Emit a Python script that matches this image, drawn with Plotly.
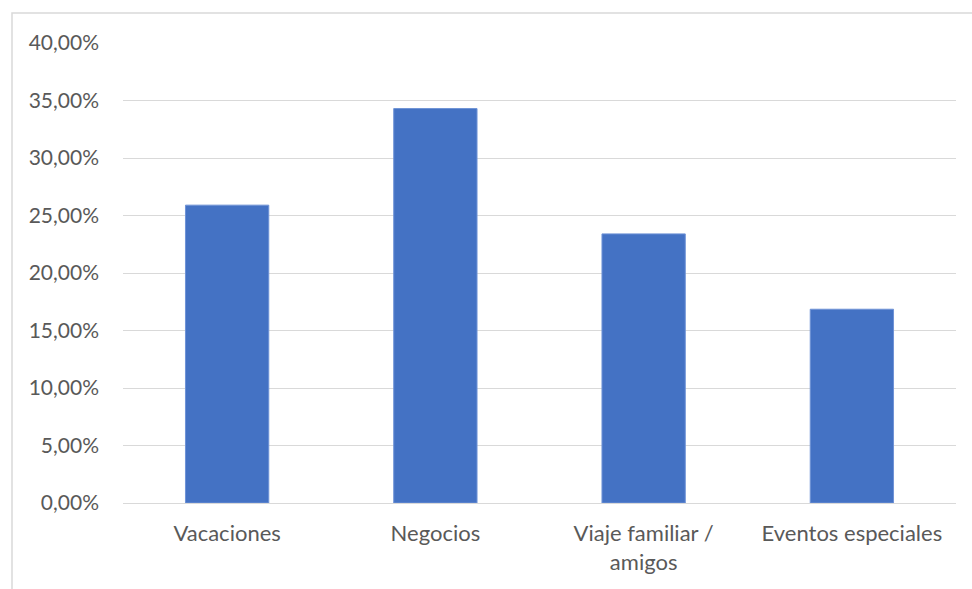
import plotly.graph_objects as go

# Motivo de viaje y porcentaje de encuestados
categorias = ["Vacaciones", "Negocios", "Viaje familiar /<br>amigos", "Eventos especiales"]
porcentajes = [25.9, 34.3, 23.4, 16.85]
ticks_y = [0, 5, 10, 15, 20, 25, 30, 35, 40]
etiquetas_y = [f"{v:.2f}".replace(".", ",") + "%" for v in ticks_y]

W, H = 972, 589
ML, MR, MT, MB = 123, 16, 43, 86
pw, ph = W - ML - MR, H - MT - MB

fig = go.Figure(
    go.Bar(
        x=categorias,
        y=porcentajes,
        marker=dict(color="#4472C4", line=dict(color="#6f93d6", width=1)),
        hoverinfo="skip",
    )
)

fig.update_layout(
    width=W,
    height=H,
    margin=dict(l=ML, r=MR, t=MT, b=MB),
    paper_bgcolor="white",
    plot_bgcolor="white",
    bargap=0.6,
    showlegend=False,
    font=dict(family="Lato", size=21, color="#595959"),
    xaxis=dict(
        showgrid=False,
        showline=True,
        linecolor="#d9d9d9",
        linewidth=1,
        ticks="",
        tickfont=dict(size=22, color="#595959"),
        ticklabelstandoff=11,
    ),
    yaxis=dict(
        range=[0, 40],
        tickvals=ticks_y,
        ticktext=etiquetas_y,
        showgrid=True,
        gridcolor="#d9d9d9",
        gridwidth=1,
        zeroline=False,
        showline=False,
        ticks="",
        tickfont=dict(size=21, color="#595959"),
        ticklabelstandoff=23,
    ),
    shapes=[
        # chart frame (left and top edges visible)
        dict(
            type="rect",
            xref="paper",
            yref="paper",
            x0=(12 - ML) / pw,
            x1=(W + 10 - ML) / pw,
            y0=(H - MB - (H + 10)) / ph,
            y1=(H - MB - 13) / ph,
            line=dict(color="#d9d9d9", width=1.5),
            fillcolor="rgba(0,0,0,0)",
            layer="below",
        )
    ],
)

fig.write_html("out.html")
